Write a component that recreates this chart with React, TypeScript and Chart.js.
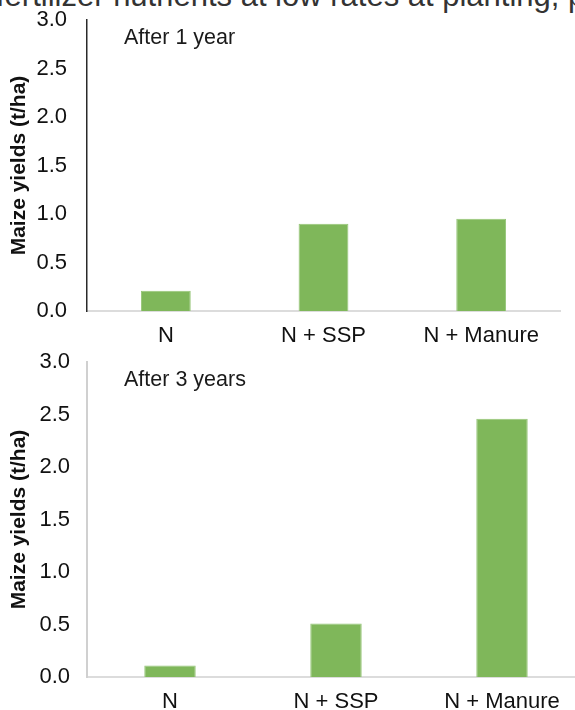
import React, { useEffect, useRef } from "react";
import { Chart, registerables } from "chart.js";

Chart.register(...registerables);

const categories = ["N", "N + SSP", "N + Manure"];
const yieldAfter1Year = [0.21, 0.9, 0.95];
const yieldAfter3Years = [0.11, 0.51, 2.46];
const yTicks = [0, 0.5, 1, 1.5, 2, 2.5, 3];
const panelTitles = ["After 1 year", "After 3 years"];
const yAxisTitle = "Maize yields (t/ha)";
const headerText = "fertilizer nutrients at low rates at planting, p";

const FONT = "'Liberation Sans', Arial, Helvetica, sans-serif";
const BAR = "#7fb75a";
const BAR_EDGE = "#95c577";

type PanelProps = {
  values: number[];
  title: string;
  top: number;
  width: number;
  height: number;
  padTop: number;
  padRight: number;
  xHeight: number;
  yAxisColor: string;
  yAxisWidth: number;
  yTickPad: number;
  catPct: number;
};

function Panel(p: PanelProps) {
  const ref = useRef<HTMLCanvasElement | null>(null);
  useEffect(() => {
    if (!ref.current) return;
    const titlePlugin = {
      id: "innerTitle",
      afterDraw(chart: any) {
        const { ctx, chartArea } = chart;
        ctx.save();
        ctx.font = `21.5px ${FONT}`;
        ctx.fillStyle = "#1a1a1a";
        ctx.textAlign = "left";
        ctx.textBaseline = "middle";
        ctx.fillText(p.title, chartArea.left + 37, chartArea.top + 18);
        ctx.restore();
      },
    };
    const chart = new Chart(ref.current, {
      type: "bar",
      data: {
        labels: categories,
        datasets: [
          {
            data: p.values,
            backgroundColor: BAR,
            borderColor: BAR_EDGE,
            borderWidth: 1,
            barPercentage: 1,
            categoryPercentage: p.catPct,
          },
        ],
      },
      options: {
        animation: false,
        responsive: false,
        maintainAspectRatio: false,
        layout: { padding: { top: p.padTop, right: p.padRight, left: 0, bottom: 0 } },
        plugins: { legend: { display: false }, tooltip: { enabled: false } },
        scales: {
          x: {
            grid: { display: false, drawTicks: false },
            border: { color: "#dcdcdc", width: 2 },
            ticks: { font: { family: FONT, size: 22 }, color: "#111", padding: 12 },
            afterFit: (s: any) => {
              s.height = p.xHeight;
              s.paddingLeft = 0;
              s.paddingRight = 0;
            },
          },
          y: {
            min: 0,
            max: 3,
            grid: { display: false, drawTicks: false },
            border: { color: p.yAxisColor, width: p.yAxisWidth },
            afterBuildTicks: (s: any) => {
              s.ticks = yTicks.map((v) => ({ value: v }));
            },
            ticks: {
              font: { family: FONT, size: 22 },
              color: "#111",
              padding: p.yTickPad,
              callback: (v: any) => Number(v).toFixed(1),
            },
            title: {
              display: true,
              text: yAxisTitle,
              font: { family: FONT, size: 21, weight: "bold" },
              color: "#111",
              padding: { top: 7, bottom: 0 },
            },
            afterFit: (s: any) => {
              s.width = 87;
              s.paddingTop = 0;
              s.paddingBottom = 0;
            },
          },
        },
      },
      plugins: [titlePlugin],
    });
    return () => chart.destroy();
  }, []);
  return (
    <canvas
      ref={ref}
      width={p.width}
      height={p.height}
      style={{ position: "absolute", left: 0, top: p.top, width: p.width, height: p.height }}
    />
  );
}

export default function App() {
  return (
    <div
      style={{
        position: "absolute",
        left: 0,
        top: 0,
        width: 575,
        height: 710,
        overflow: "hidden",
        background: "#fff",
      }}
    >
      <div
        style={{
          position: "absolute",
          left: -4,
          top: -20,
          whiteSpace: "nowrap",
          fontFamily: FONT,
          fontSize: 31,
          lineHeight: "31px",
          color: "#333",
        }}
      >
        {headerText}
      </div>
      <Panel
        values={yieldAfter1Year}
        title={panelTitles[0]}
        top={0}
        width={575}
        height={350}
        padTop={20}
        padRight={15}
        xHeight={39}
        yAxisColor="#2a2a2a"
        yAxisWidth={1.5}
        yTickPad={20}
        catPct={0.316}
      />
      <Panel
        values={yieldAfter3Years}
        title={panelTitles[1]}
        top={340}
        width={600}
        height={400}
        padTop={22}
        padRight={15}
        xHeight={63}
        yAxisColor="#d0d0d0"
        yAxisWidth={2}
        yTickPad={17}
        catPct={0.31}
      />
    </div>
  );
}
